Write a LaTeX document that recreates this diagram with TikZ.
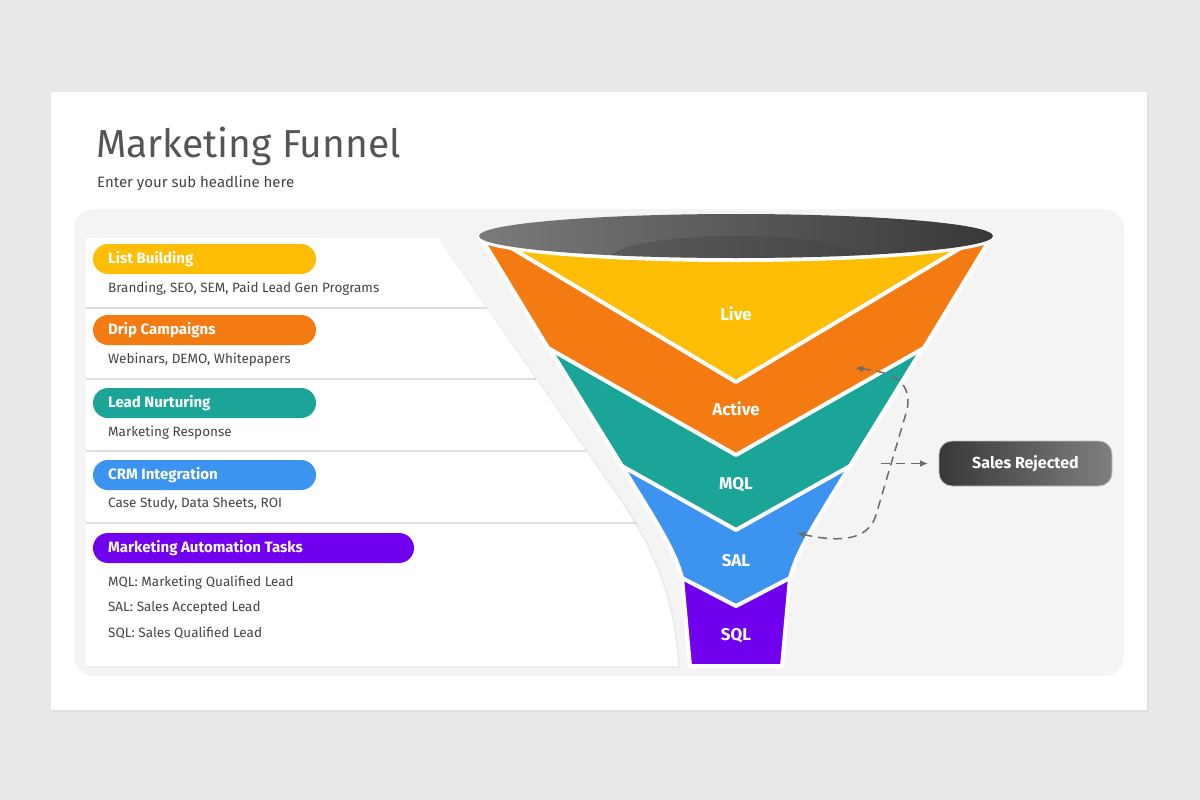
\documentclass[tikz,border=0pt]{standalone}
\usepackage{fontspec}
\setmainfont{Fira Sans}
\usetikzlibrary{arrows.meta,shadows}
\definecolor{bgc}{HTML}{EAE8E9}
\definecolor{panel}{HTML}{F4F4F4}
\definecolor{ttl}{HTML}{555555}
\definecolor{txt}{HTML}{444444}
\definecolor{cyel}{HTML}{FDBE05}
\definecolor{cora}{HTML}{F47B12}
\definecolor{ctea}{HTML}{1BA598}
\definecolor{cblu}{HTML}{3D93F0}
\definecolor{cpur}{HTML}{7000EE}
\definecolor{sep}{HTML}{DDDDDD}
\tikzset{
  pill/.style={rounded corners=15pt, minimum height=30pt, inner sep=0pt, text=white, font=\fontsize{15}{15}\selectfont\bfseries},
  desc/.style={anchor=west, text=txt, font=\fontsize{13.5}{14}\selectfont, inner sep=0pt},
  band/.style={draw=white, line width=4pt, line join=round},
  blab/.style={text=white, font=\fontsize{17}{17}\selectfont\bfseries},
  sepl/.style={draw=sep, line width=2pt},
  dashline/.style={draw=gray!85!black, line width=1.5pt, dash pattern=on 9pt off 6pt}
}
\begin{document}
\begin{tikzpicture}[x=1pt,y=-1pt]
\useasboundingbox (0,0) rectangle (1200,800);
\fill[bgc] (0,0) rectangle (1200,800);
\fill[black!12] (52,94) rectangle (1149,712);
\fill[white] (51,92) rectangle (1147,710);
\node[anchor=base west, text=ttl, inner sep=0pt, font=\fontsize{39}{39}\selectfont] (title) at (96,157) {Marketing Funnel};
\node[anchor=base west, text=txt, inner sep=0pt, font=\fontsize{15}{15}\selectfont] (sub) at (97,187) {Enter your sub headline here};
\fill[panel, rounded corners=20pt] (74,209) rectangle (1124,676);
% white left panel
\fill[black!8] (87,240) -- (440,240) -- (622,500) .. controls (662,560) and (677,610) .. (680,668) -- (87,668) -- cycle;
\fill[white] (86,238) -- (438,238) -- (620,500) .. controls (660,560) and (675,610) .. (678,666) -- (86,666) -- cycle;
\draw[sepl] (86,308) -- (487,308);
\draw[sepl] (86,379) -- (536,379);
\draw[sepl] (86,451) -- (587,451);
\draw[sepl] (86,523) -- (637,523);
% pills
\node[pill, fill=cyel, minimum width=223pt] (p1) at (204.5,259) {};
\node[anchor=west, text=white, inner sep=0pt, font=\fontsize{15}{15}\selectfont\bfseries] (t1) at (108,259) {List Building};
\node[pill, fill=cora, minimum width=223pt] (p2) at (204.5,330) {};
\node[anchor=west, text=white, inner sep=0pt, font=\fontsize{15}{15}\selectfont\bfseries] (t2) at (108,330) {Drip Campaigns};
\node[pill, fill=ctea, minimum width=223pt] (p3) at (204.5,403) {};
\node[anchor=west, text=white, inner sep=0pt, font=\fontsize{15}{15}\selectfont\bfseries] (t3) at (108,403) {Lead Nurturing};
\node[pill, fill=cblu, minimum width=223pt] (p4) at (204.5,475) {};
\node[anchor=west, text=white, inner sep=0pt, font=\fontsize{15}{15}\selectfont\bfseries] (t4) at (108,475) {CRM Integration};
\node[pill, fill=cpur, minimum width=321pt] (p5) at (253.5,548) {};
\node[anchor=west, text=white, inner sep=0pt, font=\fontsize{15}{15}\selectfont\bfseries] (t5) at (108,548) {Marketing Automation Tasks};
\node[desc] (d1) at (108,289) {Branding, SEO, SEM, Paid Lead Gen Programs};
\node[desc] (d2) at (108,360) {Webinars, DEMO, Whitepapers};
\node[desc] (d3) at (108,433) {Marketing Response};
\node[desc] (d4) at (108,504) {Case Study, Data Sheets, ROI};
\node[desc] (d5) at (108,583) {MQL: Marketing Qualified Lead};
\node[desc] (d6) at (108,608) {SAL: Sales Accepted Lead};
\node[desc] (d7) at (108,633) {SQL: Sales Qualified Lead};
% funnel bands (bottom first)
\filldraw[band, fill=cpur] (480,236) -- (622,466) .. controls (655,520) and (675,550) .. (682,578) -- (690,666) -- (782,666) -- (790,578) .. controls (797,550) and (817,520) .. (850,466) -- (992,236) -- cycle;
\filldraw[band, fill=cblu] (480,236) -- (622,466) .. controls (655,520) and (675,550) .. (682,578) -- (736,606) -- (790,578) .. controls (797,550) and (817,520) .. (850,466) -- (992,236) -- cycle;
\filldraw[band, fill=ctea] (480,236) -- (622,466) -- (736,530) -- (850,466) -- (992,236) -- cycle;
\filldraw[band, fill=cora] (480,236) -- (548,348) -- (736,455) -- (924,348) -- (992,236) -- cycle;
\filldraw[band, fill=cyel] (508,246) -- (736,382) -- (964,246) -- cycle;
\fill[white] (736,238) ellipse [x radius=259, y radius=24];
\shade[left color=black!52, right color=black!78] (736,236) ellipse [x radius=257, y radius=22];
\begin{scope}
\clip (736,236) ellipse [x radius=257, y radius=22];
\fill[black!75, opacity=0.35] (736,258) ellipse [x radius=125, y radius=22];
\end{scope}
\node[blab] (live) at (736,314) {Live};
\node[blab] (active) at (736,409) {Active};
\node[blab] (mql) at (736,485) {MQL};
\node[blab] (sal) at (736,561) {SAL};
\node[blab] (sql) at (736,636) {SQL};
% sales rejected
\shade[left color=black!78, right color=black!50, rounded corners=13pt] (939,441) rectangle (1112,486);
\draw[black!25, line width=0.8pt, rounded corners=13pt] (939,441) rectangle (1112,486);
\node[text=white, font=\fontsize{16}{16}\selectfont\bfseries] (rej) at (1025.5,463.5) {Sales Rejected};
\coordinate (rejw) at (928,463.5);
\coordinate (a1) at (855,368);
\coordinate (a2) at (797,533);
\coordinate (br) at (881,463.5);
\draw[dashline, {Latex[length=8pt,width=7pt]}-{Latex[length=8pt,width=7pt]}] (a1) .. controls (890,372) and (913,380) .. (907,410) -- (876,515) .. controls (870,535) and (850,545) .. (a2);
\draw[dashline, -{Latex[length=8pt,width=7pt]}] (br) -- (rejw);
\end{tikzpicture}
\end{document}
